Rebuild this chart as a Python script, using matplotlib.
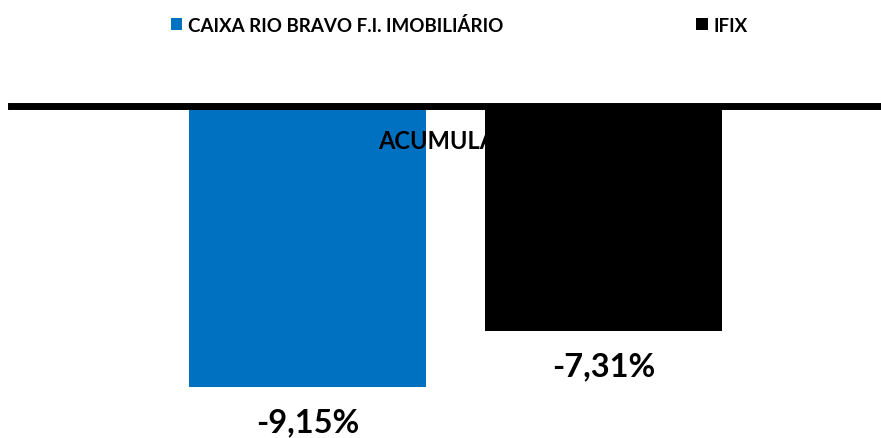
import matplotlib
matplotlib.use("Agg")
import matplotlib.pyplot as plt
from matplotlib.patches import Patch

series = ["CAIXA RIO BRAVO F.I. IMOBILIÁRIO", "IFIX"]
values = [-9.15, -7.31]
labels = ["-9,15%", "-7,31%"]
colors = ["#0070C0", "#000000"]
category = "ACUMULADO"

plt.rcParams['font.family'] = ['Lato', 'DejaVu Sans']
plt.rcParams['font.weight'] = 'bold'

fig = plt.figure(figsize=(8.81, 4.39), dpi=100)
ax = fig.add_axes([0, 0, 1, 1])

offsets = [-0.5, 0.5]
bars = ax.bar(offsets, values, width=0.8, color=colors, zorder=2)

ax.axhline(0, xmin=11/881, xmax=1, color='black', linewidth=5.0, zorder=3)

ax.text(0, -1.12, category, ha='center', va='center', fontsize=17,
        fontweight='bold', color='black', zorder=4)

for x, v, lab in zip(offsets, values, labels):
    ax.annotate(lab, (x, v), xytext=(0, -25), textcoords='offset points',
                ha='center', va='center', fontsize=23.5, fontweight='bold')

ax.set_xlim(-1.539, 1.4375)
ax.set_ylim(-10.8, 3.5)
ax.axis('off')

handles = [Patch(facecolor=c, edgecolor='none') for c in colors]
fig.legend(handles, series, loc='center left', bbox_to_anchor=(171/881, 1 - 26/439),
           ncol=2, frameon=False, fontsize=13.5, handlelength=0.6, handleheight=0.6,
           handletextpad=0.3, columnspacing=10.3, borderpad=0, borderaxespad=0)

fig.savefig("out.png", dpi=100)
